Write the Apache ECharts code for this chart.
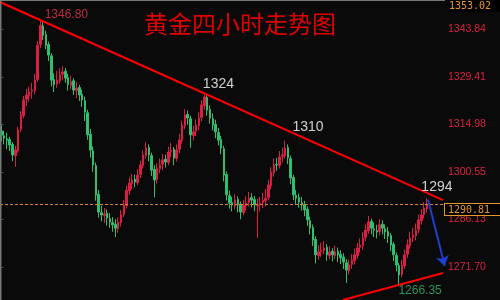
<!DOCTYPE html>
<html><head><meta charset="utf-8">
<script src="https://cdn.jsdelivr.net/npm/echarts@6/dist/echarts.min.js"></script>
<style>html,body{margin:0;padding:0;background:#0a0a0a}#c{width:500px;height:300px}</style>
</head><body><div id="c"></div>
<script>
const chartTitle = '黄金四小时走势图';
// [open, high, low, close]
const candles = [
[1313.0,1314.6,1309.8,1311.7],[1311.5,1313.0,1308.9,1310.8],[1310.6,1312.4,1307.5,1310.2],[1310.4,1311.2,1306.9,1308.7],
[1308.9,1309.6,1303.8,1305.7],[1305.4,1308.5,1302.1,1307.2],[1307.0,1314.2,1306.4,1313.3],[1313.5,1319.0,1312.6,1317.8],
[1317.6,1323.6,1316.8,1322.4],[1322.6,1325.8,1320.5,1323.9],[1323.7,1326.4,1321.9,1324.8],[1325.0,1327.6,1322.8,1325.4],
[1325.2,1330.3,1324.1,1328.4],[1328.6,1340.2,1327.9,1339.0],[1339.2,1346.8,1338.1,1345.0],[1344.8,1346.5,1340.6,1342.0],
[1342.2,1343.4,1337.8,1339.0],[1339.2,1340.1,1334.2,1336.0],[1335.8,1336.6,1326.5,1328.4],[1328.6,1330.4,1324.8,1327.0],
[1327.2,1331.2,1326.1,1328.4],[1328.2,1332.0,1327.3,1330.0],[1330.2,1332.6,1328.4,1330.9],[1331.1,1332.1,1327.6,1329.0],
[1329.2,1330.3,1325.2,1327.0],[1326.8,1329.8,1325.6,1328.0],[1328.2,1329.0,1323.9,1325.4],[1325.2,1327.9,1323.0,1326.0],
[1326.2,1327.0,1322.1,1323.9],[1324.1,1325.5,1320.3,1322.4],[1322.2,1323.4,1316.0,1318.7],[1318.5,1319.4,1310.3,1311.8],
[1312.0,1313.6,1304.9,1307.2],[1307.0,1308.3,1300.6,1302.7],[1302.5,1303.4,1291.8,1293.6],[1293.8,1295.1,1286.7,1288.4],
[1288.2,1290.3,1285.6,1287.5],[1287.3,1289.6,1285.1,1287.8],[1288.0,1289.2,1284.3,1286.6],[1286.4,1288.1,1283.6,1285.4],
[1285.2,1286.9,1282.4,1284.5],[1284.7,1286.2,1280.8,1283.5],[1283.3,1286.8,1282.1,1285.4],[1285.2,1289.0,1284.0,1287.5],
[1287.7,1292.1,1286.9,1290.5],[1290.3,1296.4,1289.5,1295.0],[1294.8,1298.9,1293.6,1297.2],[1297.0,1300.0,1295.3,1298.1],
[1298.3,1299.8,1295.9,1297.5],[1297.3,1301.4,1296.5,1299.6],[1299.8,1304.0,1298.7,1302.7],[1302.5,1307.1,1301.6,1305.7],
[1305.5,1309.6,1304.6,1307.8],[1308.0,1308.9,1303.8,1305.7],[1305.5,1306.4,1299.3,1301.1],[1301.3,1302.6,1292.8,1298.1],
[1298.3,1303.2,1297.0,1301.7],[1301.5,1304.6,1300.2,1302.7],[1302.9,1306.0,1301.1,1304.2],[1304.4,1305.8,1301.9,1303.6],
[1303.4,1308.2,1302.5,1306.6],[1306.8,1309.4,1305.0,1307.2],[1307.4,1308.1,1302.6,1304.8],[1304.6,1308.9,1303.7,1307.2],
[1307.4,1312.0,1306.2,1310.2],[1310.0,1316.1,1309.1,1314.8],[1314.6,1319.6,1313.5,1317.8],[1318.0,1319.2,1314.9,1316.9],
[1316.7,1317.6,1307.9,1311.8],[1311.6,1314.6,1310.1,1312.7],[1312.9,1316.5,1311.4,1314.8],[1314.6,1318.7,1313.2,1316.9],
[1317.1,1322.3,1316.0,1320.9],[1320.7,1324.0,1319.4,1323.3],[1323.1,1323.8,1317.6,1319.3],[1319.5,1320.7,1315.2,1316.9],
[1316.7,1318.3,1313.1,1314.8],[1315.0,1316.4,1310.8,1312.7],[1312.5,1313.9,1308.6,1310.2],[1310.4,1311.5,1305.9,1307.8],
[1307.6,1308.5,1297.7,1299.6],[1299.8,1300.7,1291.9,1293.6],[1293.4,1294.9,1289.4,1291.1],[1291.3,1293.0,1288.6,1290.5],
[1290.3,1293.8,1289.2,1292.0],[1292.2,1293.1,1288.3,1290.5],[1290.7,1291.6,1286.2,1288.4],[1288.2,1292.0,1287.4,1290.5],
[1290.3,1293.2,1288.9,1291.1],[1291.3,1294.5,1290.1,1292.6],[1292.8,1294.1,1289.8,1292.0],[1292.2,1293.3,1288.6,1290.5],
[1290.3,1292.4,1280.5,1290.5],[1290.7,1293.0,1288.5,1291.1],[1291.3,1294.2,1289.6,1292.0],[1291.8,1295.3,1290.1,1292.6],
[1292.8,1298.2,1291.9,1296.6],[1296.4,1302.0,1295.3,1300.5],[1300.3,1304.6,1299.1,1302.7],[1302.9,1304.8,1300.9,1302.7],
[1302.5,1306.9,1301.6,1305.1],[1305.3,1307.9,1303.5,1305.7],[1305.5,1310.1,1304.6,1307.8],[1308.0,1308.9,1302.9,1304.8],
[1304.6,1305.5,1296.8,1298.7],[1298.9,1299.7,1292.0,1293.6],[1293.4,1295.1,1290.8,1292.6],[1292.8,1294.0,1289.7,1291.4],
[1291.2,1292.9,1288.8,1290.5],[1290.7,1291.8,1287.1,1289.0],[1289.2,1290.1,1284.2,1286.0],[1285.8,1287.0,1281.6,1283.5],
[1283.7,1284.6,1278.1,1279.9],[1280.1,1281.0,1272.8,1275.4],[1275.2,1278.3,1273.9,1276.3],[1276.5,1279.1,1274.8,1276.9],
[1276.7,1279.6,1275.6,1277.5],[1277.7,1278.6,1273.6,1275.4],[1275.2,1278.0,1274.0,1276.3],[1276.5,1277.4,1273.4,1275.4],
[1275.2,1278.2,1274.1,1276.3],[1276.5,1277.6,1273.2,1275.4],[1275.6,1276.8,1272.6,1274.5],[1274.7,1275.9,1271.1,1273.2],
[1273.0,1274.1,1266.9,1270.8],[1270.6,1274.0,1269.4,1272.3],[1272.5,1275.6,1271.2,1273.8],[1273.6,1277.3,1272.5,1275.4],
[1275.2,1279.0,1274.3,1277.5],[1277.7,1280.4,1276.1,1278.4],[1278.2,1282.3,1277.0,1280.5],[1280.7,1284.6,1279.6,1282.9],
[1282.7,1287.2,1281.8,1285.4],[1285.6,1286.4,1281.7,1283.5],[1283.3,1285.2,1280.8,1282.9],[1282.7,1284.5,1280.4,1282.3],
[1282.5,1286.3,1281.3,1284.5],[1284.7,1285.9,1281.6,1283.5],[1283.3,1284.6,1280.2,1282.3],[1282.5,1283.8,1279.0,1281.1],
[1281.3,1282.0,1276.5,1278.4],[1278.6,1279.3,1273.5,1275.4],[1275.2,1276.1,1270.4,1272.3],[1272.1,1273.0,1266.35,1269.3],
[1269.5,1273.8,1268.6,1272.3],[1272.1,1277.0,1271.2,1275.4],[1275.6,1280.1,1274.5,1278.4],[1278.2,1282.4,1277.2,1280.5],
[1280.7,1283.6,1279.3,1281.4],[1281.2,1284.9,1279.8,1282.9],[1283.1,1287.6,1282.0,1286.0],[1285.8,1289.3,1284.6,1287.5],
[1287.7,1291.4,1286.5,1289.6],[1289.4,1292.6,1288.2,1290.81]
];
const slotCount = 160;
const categories = Array.from({length: slotCount}, (_, i) => 'K' + (i + 1));
const yTickValues = [1271.70, 1286.13, 1300.55, 1314.98, 1329.41, 1343.84];
const yTop = 1353.02;
const yBottom = 1261.70;
const lastPrice = 1290.81;
const resistanceLine = [[-0.5, 1352.1], [158.8, 1292.0]];
const supportLine = [[122.8, 1261.7], [158.8, 1269.9]];
const forecastArrow = [[153.4, 1292.2], [159.4, 1272.0]];
const annotationTexts = ['1346.80', '1324', '1310', '1294', '1266.35'];
const annotationPoints = [[14, 1346.80], [73, 1324], [102, 1310], [153, 1294], [143, 1266.35]];
const annotationStyles = [
  {color: '#e8324e', fontSize: 12, offset: [26, -5]},
  {color: '#ffffff', fontSize: 14, offset: [14, -11]},
  {color: '#ffffff', fontSize: 14, offset: [23, -14]},
  {color: '#ffffff', fontSize: 14, offset: [10, -6]},
  {color: '#3cb371', fontSize: 12, offset: [21, 6]}
];

const chart = echarts.init(document.getElementById('c'), null, {renderer: 'canvas'});
const up = '#dc1e45', down = '#2fbf71';
chart.setOption({
  animation: false,
  backgroundColor: '#0a0a0a',
  title: {
    text: chartTitle, left: 144, top: 12, padding: 0,
    textStyle: {color: '#e00000', fontSize: 24, fontWeight: 'normal', fontFamily: 'Noto Sans CJK SC'}
  },
  grid: {left: 0, right: 55, top: -1, bottom: 0, outerBoundsMode: 'none', containLabel: false},
  xAxis: [
    {type: 'category', data: categories, boundaryGap: true, show: false},
    {type: 'value', min: -0.5, max: slotCount - 0.5, show: false}
  ],
  yAxis: {
    type: 'value', position: 'right', min: yBottom, max: yTop, scale: true,
    splitLine: {show: false},
    axisLine: {show: false},
    axisTick: {show: true, customValues: yTickValues, length: 2, lineStyle: {color: '#555'}},
    axisLabel: {
      customValues: yTickValues.concat([yTop]),
      margin: 3,
      formatter: function (v) {
        if (Math.abs(v - yTop) < 0.001) return '{s|}\n{t|' + yTop.toFixed(2) + '}';
        return '{n|' + v.toFixed(2) + '}';
      },
      rich: {
        n: {color: '#dc2340', fontSize: 10.5, fontFamily: 'Liberation Sans'},
        s: {height: 14, lineHeight: 14},
        t: {color: '#e8962a', fontSize: 10, fontFamily: 'DejaVu Sans Mono', backgroundColor: '#000', padding: [1, 10, 1, 1], lineHeight: 11}
      }
    }
  },
  series: [
    {
      type: 'candlestick',
      data: candles.map(d => [d[0], d[3], d[2], d[1]]),
      barWidth: 2,
      itemStyle: {color: up, color0: down, borderColor: up, borderColor0: down, borderWidth: 1},
      markLine: {
        silent: true, symbol: ['none', 'none'], animation: false,
        lineStyle: {color: '#d0863a', type: [3, 2], width: 1},
        label: {
          show: true, position: 'end', distance: 0, verticalAlign: 'top',
          formatter: lastPrice.toFixed(2),
          color: '#e8962a', fontSize: 10, fontFamily: 'DejaVu Sans Mono',
          backgroundColor: '#000', borderColor: '#e8962a', borderWidth: 1,
          padding: [1, 10, 0, 3]
        },
        data: [{yAxis: lastPrice}]
      }
    },
    {
      type: 'line', xAxisIndex: 1, data: resistanceLine, symbol: 'none', silent: true,
      lineStyle: {color: '#ff0000', width: 2}, z: 5
    },
    {
      type: 'line', xAxisIndex: 1, data: supportLine, symbol: 'none', silent: true,
      lineStyle: {color: '#ff0000', width: 2}, z: 5,
      markLine: {
        silent: true, symbol: ['none', 'arrow'], symbolSize: 10, animation: false,
        lineStyle: {color: '#1f3fd0', width: 2, type: 'solid'},
        label: {show: false},
        data: [[{coord: forecastArrow[0]}, {coord: forecastArrow[1]}]]
      }
    },
    {
      type: 'scatter', xAxisIndex: 1, symbolSize: 1, silent: true, z: 6,
      itemStyle: {color: 'rgba(0,0,0,0)'},
      data: annotationPoints.map((p, i) => ({
        value: p,
        label: {
          show: true, position: 'inside', formatter: annotationTexts[i],
          color: annotationStyles[i].color, fontSize: annotationStyles[i].fontSize,
          fontFamily: 'Liberation Sans', offset: annotationStyles[i].offset
        }
      }))
    }
  ],
  graphic: [
    {type: 'line', shape: {x1: 0, y1: 0.5, x2: 445, y2: 0.5}, style: {stroke: '#777', lineWidth: 1}, z: 100},
    {type: 'line', shape: {x1: 0.75, y1: 0, x2: 0.75, y2: 300}, style: {stroke: '#777', lineWidth: 1.5}, z: 100}
  ]
});
</script>
</body></html>
